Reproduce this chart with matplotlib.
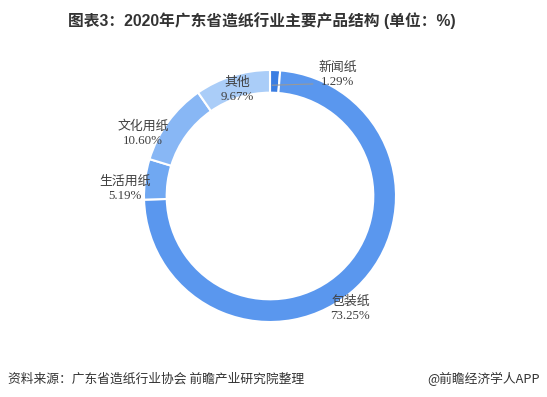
import numpy as np
import matplotlib.pyplot as plt

plt.rcParams['font.family'] = ['Liberation Serif', 'Noto Sans CJK SC', 'DejaVu Sans']

# product structure, clockwise from the top
labels = ['新闻纸', '包装纸', '生活用纸', '文化用纸', '其他']
shares = [1.29, 73.25, 5.19, 10.60, 9.67]
colors = ['#3a7de2', '#5a97ee', '#70a8f2', '#88b7f5', '#aacdf8']

# label placement per slice: distance from centre (in radii) and angle nudge (deg)
label_dist = [1.0, 1.10, 1.15, 1.12, 0.88]
label_nudge = [0, -8, 5, 10, 0]

W, H = 547, 397
fig = plt.figure(figsize=(W / 100, H / 100), dpi=100)

# axes so that the donut centre sits at (270, 196) px with radius 126 px
cx, cy, R = 270, 196, 126
ax = fig.add_axes([(cx - R) / W, (H - cy - R) / H, 2 * R / W, 2 * R / H])
wedges, _ = ax.pie(shares, colors=colors, startangle=90, counterclock=False,
                   radius=1.0,
                   wedgeprops=dict(width=0.18, edgecolor='white', linewidth=1.5))
ax.set_xlim(-1, 1)
ax.set_ylim(-1, 1)
ax.set_aspect('equal')
ax.axis('off')

for i, w in enumerate(wedges):
    mid = np.deg2rad((w.theta1 + w.theta2) / 2 + label_nudge[i])
    txt = f"{labels[i]}\n{shares[i]:.2f}%"
    if i == 0:
        # small slice: leader line to the right
        x0, y0 = 0.95 * np.cos(mid), 0.91 * np.sin(mid)
        ax.plot([x0 - 0.02, x0 + 0.30], [y0 - 0.03, y0 - 0.02], color='#999999', lw=0.8,
                clip_on=False)
        ax.text(x0 + 0.50, y0 + 0.05, txt, ha='center', va='center',
                fontsize=9.3, color='#404040', linespacing=1.25)
    else:
        ax.text(label_dist[i] * np.cos(mid), label_dist[i] * np.sin(mid), txt,
                ha='center', va='center', fontsize=9.3, color='#404040',
                linespacing=1.25)

fig.text(0.478, 0.948, '图表3：2020年广东省造纸行业主要产品结构 (单位：%)',
         ha='center', va='center', fontsize=11.3, fontweight='bold', color='#333333',
         family=['Liberation Sans', 'Noto Sans CJK SC'])
fig.text(8 / W, 1 - 379 / H, '资料来源：广东省造纸行业协会 前瞻产业研究院整理',
         ha='left', va='center', fontsize=9.2, color='#333333',
         family=['Noto Sans CJK SC'])
fig.text(540 / W, 1 - 379 / H, '@前瞻经济学人APP',
         ha='right', va='center', fontsize=9.2, color='#333333',
         family=['Noto Sans CJK SC'])

fig.savefig('out.png', dpi=100)
